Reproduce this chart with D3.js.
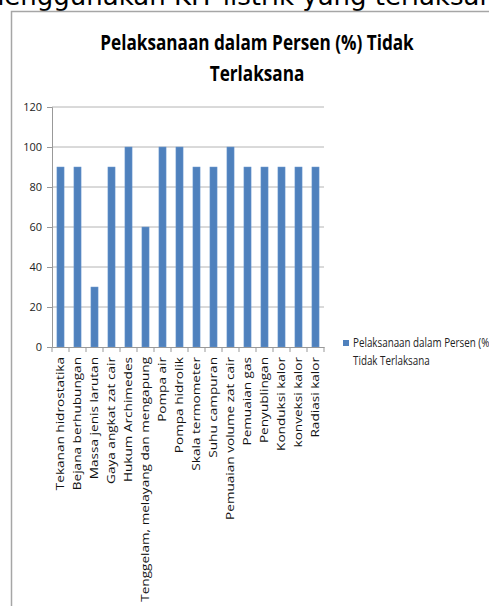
<!DOCTYPE html>
<html>
<head>
<meta charset="utf-8">
<script src="https://cdn.jsdelivr.net/npm/d3@7"></script>
<style>
  body { margin: 0; background: #fff; }
  svg { display: block; }
</style>
</head>
<body>
<script>
// data
var categories = ["Tekanan hidrostatika", "Bejana berhubungan", "Massa jenis larutan",
  "Gaya angkat zat cair", "Hukum Archimedes", "Tenggelam, melayang dan mengapung",
  "Pompa air", "Pompa hidrolik", "Skala termometer", "Suhu campuran",
  "Pemuaian volume zat cair", "Pemuaian gas", "Penyublingan", "Konduksi kalor",
  "konveksi kalor", "Radiasi kalor"];
var values = [90, 90, 30, 90, 100, 60, 100, 100, 90, 90, 100, 90, 90, 90, 90, 90];
var yTicks = [0, 20, 40, 60, 80, 100, 120];
var titleLines = ["Pelaksanaan dalam Persen (%) Tidak", "Terlaksana"];
var legendLines = ["Pelaksanaan dalam Persen (%)", "Tidak Terlaksana"];

var width = 489, height = 606;
var barColor = "#4f81bd";
var squeeze = 0.78; // the picture looks squeezed sideways

var svg = d3.select("body").append("svg")
  .attr("width", width)
  .attr("height", height);

// cut-off line of page text above the chart
svg.append("text")
  .attr("x", -21)
  .attr("y", 5)
  .style("font-family", "DejaVu Sans")
  .style("font-size", "26px")
  .attr("fill", "#000")
  .text("menggunakan KIT listrik yang terlaksana");

// chart frame
svg.append("rect")
  .attr("x", 11.5)
  .attr("y", 11.5)
  .attr("width", 600)
  .attr("height", 700)
  .attr("fill", "#fff")
  .attr("stroke", "#a6a6a6")
  .attr("stroke-width", 1.5);

// title
var title = svg.append("g")
  .attr("transform", "translate(257,0) scale(" + squeeze + ",1)");
title.selectAll("text")
  .data(titleLines)
  .enter()
  .append("text")
  .attr("x", 0)
  .attr("y", function(d, i) { return 50 + i * 31; })
  .attr("text-anchor", "middle")
  .style("font-family", "'Open Sans', sans-serif")
  .style("font-weight", "bold")
  .style("font-size", "22px")
  .text(function(d) { return d; });

var plotLeft = 52, plotRight = 324, plotTop = 107, plotBottom = 347;

var x = d3.scaleBand()
  .domain(categories)
  .range([plotLeft, plotRight])
  .paddingInner(0.58)
  .paddingOuter(0.29);

var y = d3.scaleLinear()
  .domain([0, 120])
  .range([plotBottom, plotTop]);

// gridlines
svg.selectAll("line.grid")
  .data(yTicks.slice(1))
  .enter()
  .append("line")
  .attr("class", "grid")
  .attr("x1", plotLeft)
  .attr("x2", plotRight)
  .attr("y1", function(d) { return y(d); })
  .attr("y2", function(d) { return y(d); })
  .attr("stroke", "#b4b4b4")
  .attr("stroke-width", 1);

// y axis
var yAxis = svg.append("g")
  .attr("transform", "translate(" + plotLeft + ",0)")
  .call(d3.axisLeft(y).tickValues(yTicks).tickSize(5).tickPadding(5));
yAxis.select(".domain").attr("stroke", "#999");
yAxis.selectAll(".tick line").attr("stroke", "#999");
yAxis.selectAll("text")
  .style("font-family", "'Open Sans', sans-serif")
  .style("font-size", "11px")
  .attr("fill", "#222");

// bars
svg.selectAll("rect.bar")
  .data(values)
  .enter()
  .append("rect")
  .attr("class", "bar")
  .attr("x", function(d, i) { return x(categories[i]); })
  .attr("y", function(d) { return y(d); })
  .attr("width", x.bandwidth())
  .attr("height", function(d) { return plotBottom - y(d); })
  .attr("fill", barColor)
  .attr("stroke", "#6f9bd0")
  .attr("stroke-width", 0.5);

// x axis with rotated labels
var xAxis = svg.append("g")
  .attr("transform", "translate(0," + plotBottom + ")")
  .call(d3.axisBottom(x).tickSize(0).tickPadding(0));
xAxis.select(".domain").attr("stroke", "#999");
xAxis.selectAll("text")
  .attr("transform", "scale(" + squeeze + ",1) rotate(-90)")
  .attr("x", -10)
  .attr("y", 0)
  .attr("dy", "0.35em")
  .attr("text-anchor", "end")
  .style("font-family", "'Open Sans', sans-serif")
  .style("font-size", "13.6px")
  .attr("fill", "#111");

// tick marks between categories
svg.selectAll("line.xtick")
  .data(d3.range(categories.length + 1))
  .enter()
  .append("line")
  .attr("class", "xtick")
  .attr("x1", function(i) { return plotLeft + i * x.step(); })
  .attr("x2", function(i) { return plotLeft + i * x.step(); })
  .attr("y1", plotBottom)
  .attr("y2", plotBottom + 5)
  .attr("stroke", "#999");

// legend
svg.append("rect")
  .attr("x", 343)
  .attr("y", 340)
  .attr("width", 6)
  .attr("height", 6)
  .attr("fill", barColor);

var legend = svg.append("g")
  .attr("transform", "translate(353,0) scale(" + squeeze + ",1)");
legend.selectAll("text")
  .data(legendLines)
  .enter()
  .append("text")
  .attr("x", 0)
  .attr("y", function(d, i) { return 347 + i * 18; })
  .style("font-family", "'Open Sans', sans-serif")
  .style("font-size", "12.6px")
  .attr("fill", "#222")
  .text(function(d) { return d; });
</script>
</body>
</html>
